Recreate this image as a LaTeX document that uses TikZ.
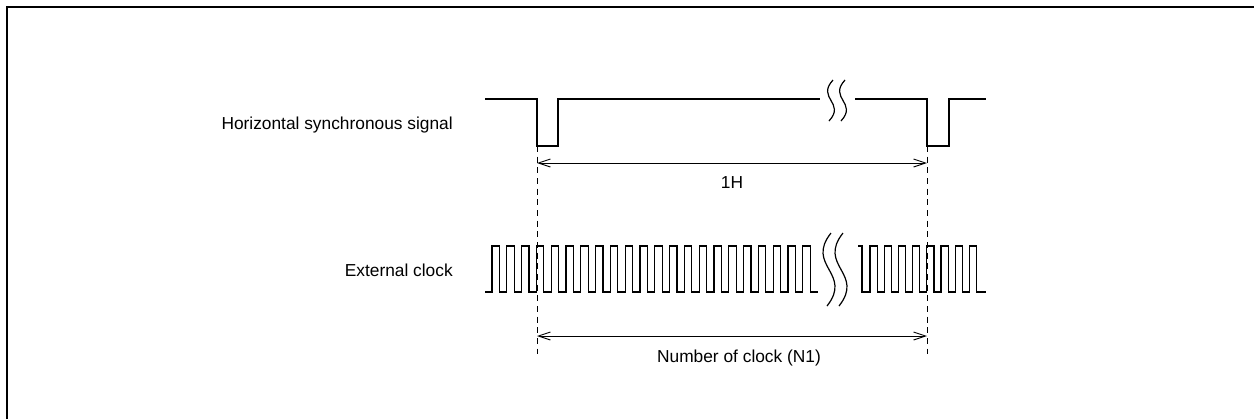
\documentclass[tikz,border=0pt]{standalone}
\usepackage{fontspec}
\setmainfont{Liberation Sans}
\usetikzlibrary{arrows.meta}

\begin{document}
\begin{tikzpicture}[x=0.75pt,y=-0.75pt,
    wave/.style={line width=0.9pt},
    dim/.style={line width=0.7pt,{Straight Barb[length=9pt,width=6pt]}-{Straight Barb[length=9pt,width=6pt]}},
    guide/.style={line width=0.7pt,dash pattern=on 4.5pt off 3.5pt},
    lbl/.style={font=\fontsize{13}{15}\selectfont,inner sep=0pt}]
  \useasboundingbox (0,0) rectangle (1254,419);
  \draw[line width=1.6pt] (7,419) -- (7,7) -- (1254,7);

  % break mark: x, top, bottom, swing
  \def\brk#1#2#3#4{\draw[wave] ({#1+2},#2) .. controls ({#1-#4},{#2+0.45*(#3-#2)}) and ({#1+#4},{#2+0.55*(#3-#2)}) .. ({#1-2},#3);}

  % horizontal sync
  \node[lbl,anchor=base east] (hsync) at (453,129) {Horizontal synchronous signal};
  \draw[wave] (485,99) -- (537,99) -- (537,146) -- (558,146) -- (558,99) -- (820,99);
  \draw[wave] (855,99) -- (927,99) -- (927,146) -- (949,146) -- (949,99) -- (986,99);
  \brk{831}{80}{121}{15}
  \brk{843}{80}{121}{15}

  % external clock
  \node[lbl,anchor=base east] (clk) at (453,276) {External clock};
  \draw[wave] (485,292)
    \foreach \k [evaluate=\k as \r using 492+\k*14.8] in {0,...,21}{
      -- (\r,292) -- (\r,246) -- (\r+7.4,246) -- (\r+7.4,292)}
    -- (818,292);
  \draw[wave] (858,246) -- (862,246) -- (862,292)
    \foreach \k [evaluate=\k as \r using 870+\k*14.2] in {0,...,7}{
      -- (\r,292) -- (\r,246) -- (\r+7.1,246) -- (\r+7.1,292)}
    -- (986,292);
  \brk{829}{233}{306}{24}
  \brk{841}{233}{306}{24}

  % guides and dimensions
  \draw[guide] (537,146) -- (537,354);
  \draw[guide] (927,146) -- (927,354);
  \coordinate (h0) at (537,163);
  \coordinate (h1) at (927,163);
  \coordinate (n0) at (537,336);
  \coordinate (n1) at (927,336);
  \draw[dim] (h0) -- (h1);
  \draw[dim] (n0) -- (n1);
  \node[lbl,anchor=base] (oneh) at (732,188) {1H};
  \node[lbl,anchor=base] (nclk) at (739,362) {Number of clock (N1)};
\end{tikzpicture}
\end{document}
